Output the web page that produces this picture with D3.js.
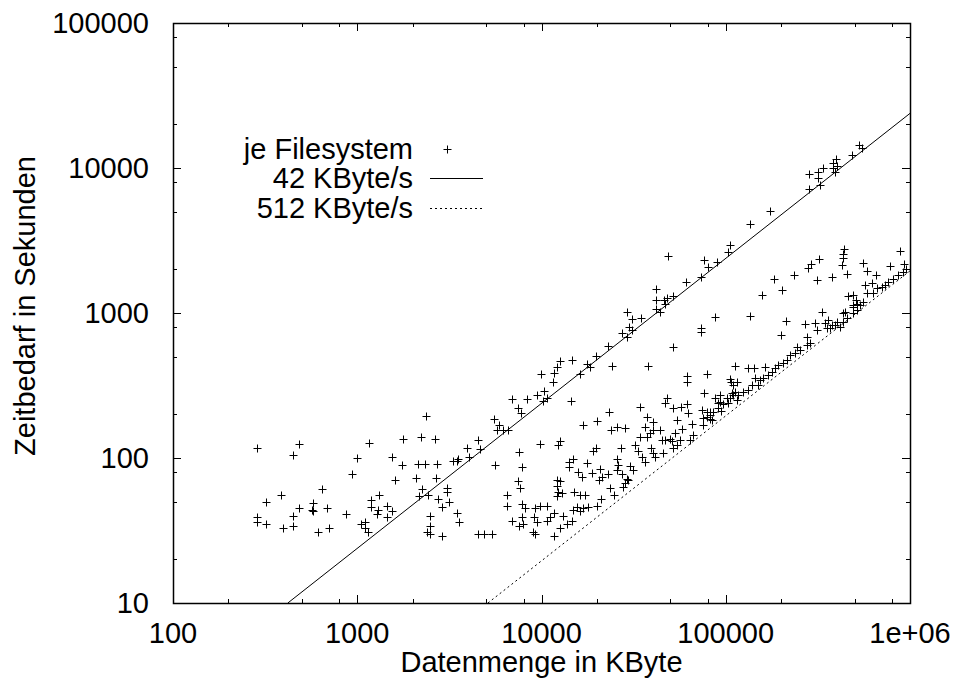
<!DOCTYPE html>
<html><head><meta charset="utf-8">
<script src="https://cdn.jsdelivr.net/npm/d3@7"></script>
<style>
body{margin:0;background:#fff}
svg text{font-family:"Liberation Sans",Arial,Helvetica,sans-serif;fill:#000}
</style>
</head><body>
<svg id="chart" width="957" height="680"></svg>
<script>
// ---- data ----
const xTickValues = [100, 1000, 10000, 100000, 1000000];
const xTickLabels = ["100", "1000", "10000", "100000", "1e+06"];
const yTickValues = [10, 100, 1000, 10000, 100000];
const yTickLabels = ["10", "100", "1000", "10000", "100000"];
const minorFactors = [2, 5, 8];
const rates = [42, 512];                 // KByte/s
const legendLabels = ["je Filesystem", "42 KByte/s", "512 KByte/s"];
const xAxisTitle = "Datenmenge in KByte";
const yAxisTitle = "Zeitbedarf in Sekunden";

// Datenmenge (KByte) je Filesystem
const kbyte = [
287,320,287,287,318,446,481,1154,997,932,
641,384,446,446,397,483,577,577,570,688,
702,610,869,1044,1101,1101,1148,1183,1183,1317,
1301,1285,1445,1445,1538,1538,1756,1764,2219,2650,
2360,2128,2332,2699,1609,2085,2665,2246,2154,2413,
3059,3059,2744,3150,2885,2487,3466,3566,2487,2380,
2487,2894,4540,4890,5370,3320,3530,3466,3930,4040,
4540,4640,5610,5540,5900,5710,6200,6560,6910,7480,
7710,8310,9420,10350,10230,10670,7570,7860,7480,7640,
6470,6470,6890,8130,7800,7900,7570,9230,9810,9100,
9490,9040,9230,9810,10670,10750,
11500,14400,12600,12340,7800,11120,11690,11690,12600,13130,
13800,14590,14880,15640,16180,16860,17950,19930,20950,14150,
14880,14150,15840,16520,17590,19110,19760,12180,12600,12180,
12340,12180,12870,15010,16180,17220,18730,20770,21230,23050,
20580,23540,24740,25580,26100,25580,27240,29000,30200,31500,
29600,28400,27800,26900,32200,33500,35000,36400,16860,20080,
23330,23760,25580,28400,34200,37500,36400,34200,37200,39200,
40500,41300,38800,40500,40500,44000,44900,45800,46800,49800,
50900,51900,53000,54200,56400,57700,54200,47800,46800,51900,
57100,61800,62700,65400,66700,64000,61300,76200,74000,82200,
78800,82200,93000,91000,97000,101200,103200,107700,109900,112200,
114700,93900,106400,
105500,103200,48400,76200,79800,89900,73100,60800,41700,41700,
46400,47800,51500,41700,44000,46800,29000,30900,34500,30000,
30900,27240,29000,87400,73400,73400,51900,23050,19760,17730,
18330,16180,14690,12600,12090,11690,9900,24030,37700,61800,
78800,112200,105500,114700,
531000,547000,483000,395000,383000,400000,381000,392000,336000,316000,
318000,284000,325000,284000,174000,135000,438000,435000,431000,321000,
290000,281000,426000,558000,582000,453000,377000,312000,235000,183000,
201000,158000,883000,779000,928000,951000,651000,135400,211500,269000,
305000,334000,463000,492000,509000,492000,570000,582000,620000,632000,
660000,702000,732000,762000,812000,864000,920000,558000,535000,514000,
492000,453000,435000,417000,444000,392000,368000,346000,199500,360000,
353000,400000,431000,312000,275000,287000,275000,253000,243000,238000,
223000,214000,205000,193000,185000,177600,170200,163300,159900,153400,
150200,144100,142300,132600,138300,132600,124500,117000,109900,
93000,91000,85600,82200,78800,75500,74900,83900,87400,105500,
376000,492000,514000
];
// Zeitbedarf (Sekunden) je Filesystem
const sekunden = [
117,50,39,36,35,105,124,126,100,78,
61,56,40,34,33,45,49,43,44,45,
33,31,41,35,36,33,31,51,46,56,
44,41,47,39,43,102,90,135,140,135,
196,91,91,91,70,73,73,61,55,56,
62,58,52,50,46,40,42,36,34,31,
30,29,30,30,30,96,98,95,117,102,
133,116,90,185,169,155,157,155,254,220,
203,254,272,290,249,258,110,86,69,62,
56,47,37,45,39,35,34,45,47,39,
36,31,30,124,47,37,
336,249,130,123,48,39,42,29,33,40,
35,37,44,46,43,45,46,47,52,94,
98,86,80,74,93,111,117,71,69,64,
58,55,57,58,56,56,79,84,74,77,
71,62,56,98,90,82,77,72,88,82,
71,67,63,117,122,111,101,94,169,180,
209,155,164,160,226,193,164,140,140,118,
108,102,149,157,178,157,133,108,133,136,
130,117,149,122,133,159,183,258,238,220,
226,236,203,172,144,133,336,280,215,209,
193,185,272,238,234,258,238,280,319,287,
252,212,336,
2950,2650,2490,2320,2070,2240,1780,1630,1460,1220,
1220,1260,1310,1070,1020,1150,1020,905,919,805,
762,724,680,943,784,736,580,595,505,445,
422,379,474,469,426,384,379,431,431,368,
379,431,349,336,
14400,13700,12300,11500,10800,10300,9950,9430,9950,9430,
8490,9050,7620,7170,5050,4110,2750,2550,2380,2360,
2170,2050,2140,2220,1960,1860,1780,1690,1830,1720,
1440,1330,2680,2120,2170,2000,1830,955,885,840,
848,1020,1320,1330,1230,1135,1560,1370,1600,1370,
1480,1520,1560,1640,1710,1830,1930,1200,1135,1050,
1000,920,871,805,1020,824,784,848,705,895,
784,871,995,762,687,618,603,556,585,527,
513,474,450,438,416,394,374,426,355,345,
319,355,416,416,319,294,287,272,272,
245,220,209,198,209,188,169,183,258,258,
824,1105,1160
];

// ---- layout ----
const plot = {left: 173, right: 910, top: 23, bottom: 603};
const FONT = 29;

const svg = d3.select("#chart");
const x = d3.scaleLog().domain([100, 1000000]).range([plot.left, plot.right]);
const y = d3.scaleLog().domain([10, 100000]).range([plot.bottom, plot.top]);

svg.append("defs").append("clipPath").attr("id", "clip")
  .append("rect").attr("x", plot.left).attr("y", plot.top)
  .attr("width", plot.right - plot.left).attr("height", plot.bottom - plot.top);

// ticks (mirrored on all four sides, pointing inward)
const tickG = svg.append("g").attr("stroke", "#000").attr("stroke-width", 1);
const majorLen = 8, minorLen = 4;
function minorOf(values) {
  const out = [];
  values.forEach(v => minorFactors.forEach(f => out.push(v * f)));
  return out;
}
const xMinor = minorOf(xTickValues).filter(v => v < x.domain()[1]);
const yMinor = minorOf(yTickValues).filter(v => v < y.domain()[1]);
function px(v){ return Math.round(v) + 0.5; }

[[xTickValues, majorLen], [xMinor, minorLen]].forEach(([vals, len]) => {
  vals.forEach(v => {
    const xx = px(x(v));
    tickG.append("line").attr("x1", xx).attr("x2", xx).attr("y1", plot.bottom).attr("y2", plot.bottom - len);
    tickG.append("line").attr("x1", xx).attr("x2", xx).attr("y1", plot.top).attr("y2", plot.top + len);
  });
});
[[yTickValues, majorLen], [yMinor, minorLen]].forEach(([vals, len]) => {
  vals.forEach(v => {
    const yy = px(y(v));
    tickG.append("line").attr("y1", yy).attr("y2", yy).attr("x1", plot.left).attr("x2", plot.left + len);
    tickG.append("line").attr("y1", yy).attr("y2", yy).attr("x1", plot.right).attr("x2", plot.right - len);
  });
});

// tick labels
svg.append("g").selectAll("text").data(xTickValues).join("text")
  .attr("x", d => x(d)).attr("y", 643)
  .attr("text-anchor", "middle").attr("font-size", FONT)
  .text((d, i) => xTickLabels[i]);
svg.append("g").selectAll("text").data(yTickValues).join("text")
  .attr("x", 149).attr("y", d => y(d) + 10)
  .attr("text-anchor", "end").attr("font-size", FONT)
  .text((d, i) => yTickLabels[i]);

// axis titles
svg.append("text").attr("x", (plot.left + plot.right) / 2).attr("y", 672)
  .attr("text-anchor", "middle").attr("font-size", FONT).text(xAxisTitle);
svg.append("text").attr("transform", "translate(35,306) rotate(-90)")
  .attr("text-anchor", "middle").attr("font-size", FONT).text(yAxisTitle);

// rate lines
const dashes = [null, "2,3"];
const lineGen = d3.line().x(d => x(d[0])).y(d => y(d[1]));
const linesG = svg.append("g").attr("clip-path", "url(#clip)");
rates.forEach((r, i) => {
  const x0 = y.domain()[0] * r, x1 = x.domain()[1];
  linesG.append("path")
    .attr("d", lineGen([[x0, x0 / r], [x1, x1 / r]]))
    .attr("fill", "none").attr("stroke", "#000").attr("stroke-width", 1)
    .attr("stroke-dasharray", dashes[i]);
});

// points
const plus = "M-4,0H4M0,-4V4";
svg.append("g").attr("stroke", "#000").attr("stroke-width", 1).attr("fill", "none")
  .selectAll("path").data(kbyte.map((k, i) => [k, sekunden[i]])).join("path")
  .attr("transform", d => `translate(${px(x(d[0]))},${px(y(d[1]))})`)
  .attr("d", plus);

// frame
svg.append("rect").attr("x", plot.left + 0.5).attr("y", plot.top + 0.5)
  .attr("width", plot.right - plot.left).attr("height", plot.bottom - plot.top)
  .attr("fill", "none").attr("stroke", "#000").attr("stroke-width", 1.5);

// legend
const legY = [149, 178, 208];
const leg = svg.append("g");
legendLabels.forEach((t, i) => {
  leg.append("text").attr("x", 413).attr("y", legY[i] + 9.5)
    .attr("text-anchor", "end").attr("font-size", FONT).text(t);
});
leg.append("path").attr("d", plus).attr("stroke", "#000").attr("stroke-width", 1)
  .attr("transform", `translate(${px(447)},${px(legY[0])})`);
rates.forEach((r, i) => {
  leg.append("line").attr("x1", 430).attr("x2", 483)
    .attr("y1", legY[i + 1] + 0.5).attr("y2", legY[i + 1] + 0.5)
    .attr("stroke", "#000").attr("stroke-width", 1)
    .attr("stroke-dasharray", dashes[i]);
});
</script>
</body></html>
